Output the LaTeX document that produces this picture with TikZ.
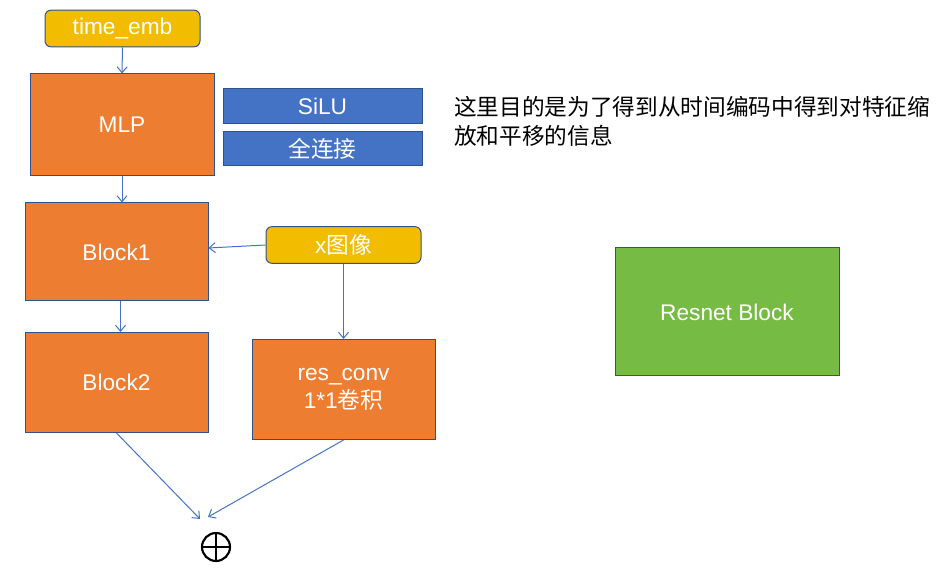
\documentclass[tikz,border=0pt]{standalone}
\usepackage{fontspec}
\setmainfont{Liberation Sans}
\newfontfamily\cjk{Noto Sans CJK SC}
\usepackage{tikz}
\usetikzlibrary{arrows.meta,calc,positioning}
\definecolor{BoxOrange}{HTML}{ED7D31}
\definecolor{BoxGold}{HTML}{F2BC00}
\definecolor{BoxBlue}{HTML}{4472C4}
\definecolor{BoxGreen}{HTML}{76BB44}
\definecolor{EdgeBlue}{HTML}{2F528F}
\definecolor{ArrowBlue}{HTML}{4472C4}

\begin{document}
\begin{tikzpicture}[x=0.75pt,y=-0.75pt,
      every node/.style={inner sep=0pt,text=white,font=\fontsize{17}{21}\selectfont},
      block/.style={draw=EdgeBlue,line width=0.75pt,fill=BoxOrange,minimum width=137.25pt,minimum height=75pt,align=center},
      inbox/.style={draw=EdgeBlue,line width=0.75pt,fill=BoxGold,rounded corners=4.5pt,minimum width=116.25pt,minimum height=27.5pt},
      layer/.style={draw=EdgeBlue,line width=0.75pt,fill=BoxBlue,minimum width=149.25pt,minimum height=25.75pt},
      arrow/.style={-{Straight Barb[length=4.5pt,width=7.5pt]},draw=ArrowBlue,line width=0.75pt}
    ]
      \useasboundingbox (0,0) rectangle (941,580);

      \node[inbox] (temb) at (122.5,28.5) {\raisebox{-1pt}{time\_emb}};
      \node[block,minimum width=138pt,minimum height=76.5pt] (mlp) at (122,125) {MLP};
      \node[layer] (silu) at (322.5,106) {SiLU};
      \node[layer] (fc) at (322.5,148.5) {\cjk 全连接};
      \node[block,minimum height=73.5pt] (blk1) at (116.5,252) {Block1};
      \node[inbox] (ximg) at (343.5,245) {x{\cjk 图像}};
      \node[block] (blk2) at (116.5,382.5) {Block2};
      \node[block] (rconv) at (343.5,389.5) {res\_conv\\1*1{\cjk 卷积}};
      \node[block,fill=BoxGreen,minimum width=168pt,minimum height=96pt] (resnet) at (727,312) {Resnet Block};
      \node[circle,draw=black,line width=1.6pt,minimum size=21pt,
            path picture={\draw[line width=1.6pt] (path picture bounding box.north) -- (path picture bounding box.south)
                          (path picture bounding box.west) -- (path picture bounding box.east);}] (sum) at (216,547) {};
      \node[anchor=north west,text=black,align=left,font=\cjk\fontsize{17}{21.5}\selectfont] (note) at (454,96)
        {这里目的是为了得到从时间编码中得到对特征缩\\放和平移的信息};

      \coordinate (tipa) at (200,519);
      \coordinate (tipb) at (208,517);

      \draw[arrow] (temb.south) -- (mlp.north);
      \draw[arrow] (mlp.south) -- (mlp.south |- blk1.north);
      \draw[arrow] ([xshift=3pt]blk1.south) -- ([xshift=3pt]blk2.north);
      \draw[arrow] (ximg.west) -- ([yshift=3pt]blk1.east);
      \draw[arrow] (ximg.south) -- (rconv.north);
      \draw[arrow] (blk2.south) -- (tipa);
      \draw[arrow] (rconv.south) -- (tipb);
    \end{tikzpicture}
\end{document}
